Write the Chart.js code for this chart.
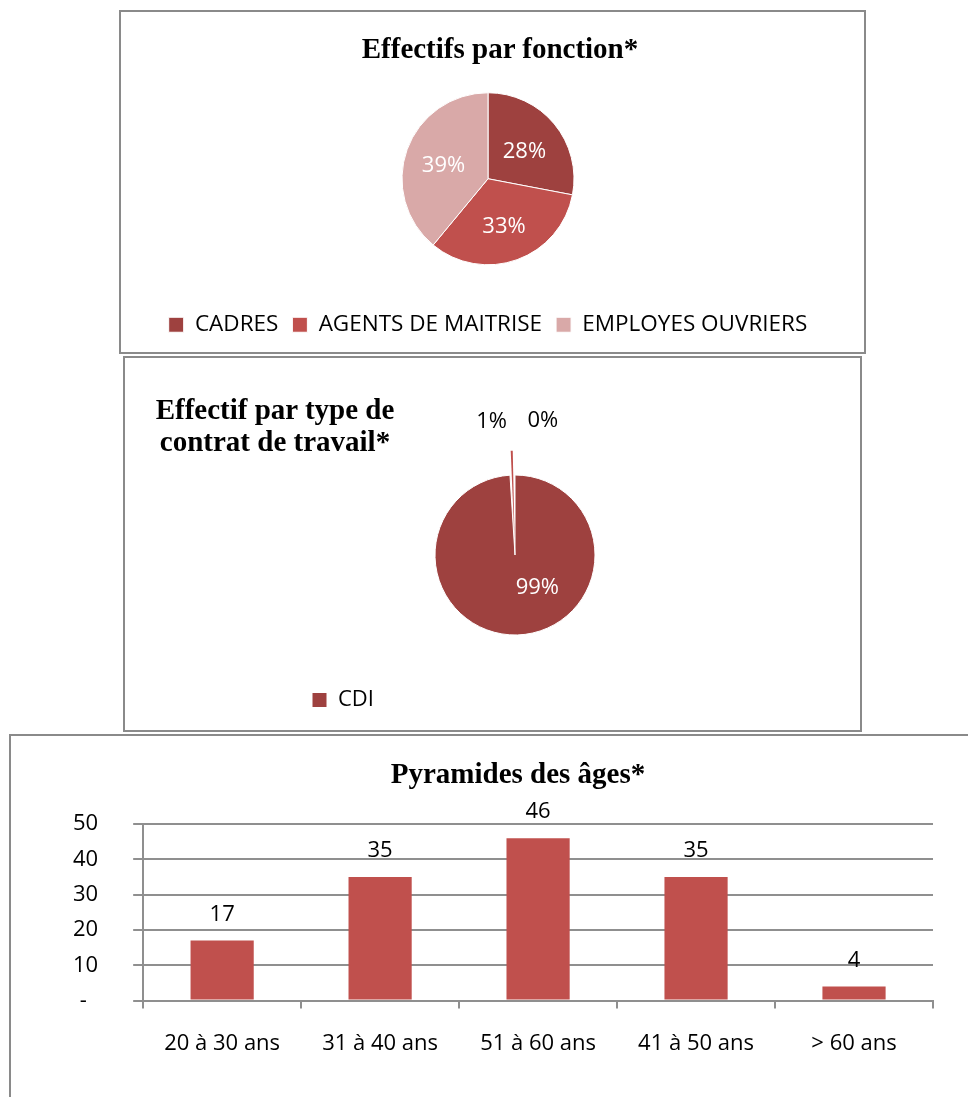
<!DOCTYPE html>
<html lang="fr">
<head>
<meta charset="utf-8">
<script src="https://cdn.jsdelivr.net/npm/chart.js@4/dist/chart.umd.min.js"></script>
<style>
  html, body { margin: 0; padding: 0; background: #fff; overflow: hidden; width: 968px; height: 1097px; }
  .box { position: absolute; box-sizing: border-box; border: 2px solid #8a8a8a; }
  .cw { position: absolute; }
  .ttl { position: absolute; text-align: center; white-space: nowrap;
         font: bold 29px "Liberation Serif", serif; line-height: 32px; color: #000; }
</style>
</head>
<body>
<div class="box" style="left:119px;top:10px;width:747px;height:344px;"></div>
<div class="box" style="left:123px;top:356px;width:739px;height:376px;"></div>
<div class="box" style="left:9px;top:734px;width:990px;height:400px;"></div>

<div class="cw" style="left:121px;top:12px;width:743px;height:340px;"><canvas id="c1"></canvas></div>
<div class="cw" style="left:125px;top:358px;width:735px;height:372px;"><canvas id="c2"></canvas></div>
<div class="cw" style="left:11px;top:736px;width:957px;height:361px;"><canvas id="c3"></canvas></div>

<div class="ttl" style="left:300px;top:32px;width:400px;">Effectifs par fonction*</div>
<div class="ttl" style="left:135px;top:393px;width:280px;">Effectif par type de<br>contrat de travail*</div>
<div class="ttl" style="left:318px;top:757px;width:400px;">Pyramides des âges*</div>

<script>
// ---- data ----
const fonctionLabels = ['CADRES', 'AGENTS DE MAITRISE', 'EMPLOYES OUVRIERS'];
const fonctionValues = [28, 33, 39];

const contratLabels = ['CDI', '', ''];
const contratValues = [99, 1, 0];

const ageLabels = ['20 à 30 ans', '31 à 40 ans', '51 à 60 ans', '41 à 50 ans', '> 60 ans'];
const ageValues = [17, 35, 46, 35, 4];
const ageTicks = [0, 10, 20, 30, 40, 50];

// ---- styles ----
const SANS = '"Open Sans", "DejaVu Sans", sans-serif';
const DARK = '#9E413F', MID = '#C0504D', LIGHT = '#D9A9A8';
const GRID = '#8f8f8f';

Chart.defaults.font.family = SANS;
Chart.defaults.color = '#000';
Chart.defaults.animation = false;
Chart.defaults.plugins.tooltip.enabled = false;

const pieLabels = {
  id: 'pieLabels',
  afterDatasetsDraw(chart, args, opts) {
    const ctx = chart.ctx;
    const meta = chart.getDatasetMeta(0);
    const data = chart.data.datasets[0].data;
    const total = data.reduce((a, b) => a + b, 0);
    ctx.save();
    ctx.font = '22px ' + SANS;
    ctx.textAlign = 'center';
    ctx.textBaseline = 'middle';
    meta.data.forEach((arc, i) => {
      const txt = Math.round(data[i] / total * 100) + '%';
      let ang, r;
      const p = opts.place ? opts.place[i] : null;
      if (p) {
        ang = p.deg * Math.PI / 180 - Math.PI / 2;
        r = p.r * arc.outerRadius;
      } else {
        ang = (arc.startAngle + arc.endAngle) / 2;
        r = opts.ratio * arc.outerRadius;
      }
      ctx.fillStyle = opts.colors[i];
      ctx.fillText(txt, arc.x + Math.cos(ang) * r, arc.y + Math.sin(ang) * r + (opts.dy || 0));
    });
    ctx.restore();
  }
};

const barLabels = {
  id: 'barLabels',
  afterDatasetsDraw(chart) {
    const ctx = chart.ctx;
    const meta = chart.getDatasetMeta(0);
    const data = chart.data.datasets[0].data;
    ctx.save();
    ctx.font = '22px ' + SANS;
    ctx.fillStyle = '#000';
    ctx.textAlign = 'center';
    ctx.textBaseline = 'middle';
    meta.data.forEach((bar, i) => {
      ctx.fillText(String(data[i]), bar.x, bar.y - 26);
    });
    ctx.restore();
  }
};

// ---- chart 1 ----
new Chart(document.getElementById('c1'), {
  type: 'pie',
  data: {
    labels: fonctionLabels,
    datasets: [{
      data: fonctionValues,
      backgroundColor: [DARK, MID, LIGHT],
      borderColor: '#fff',
      borderWidth: 1,
      radius: 86
    }]
  },
  options: {
    responsive: true,
    maintainAspectRatio: false,
    layout: { padding: { left: 0, right: 9, top: 46, bottom: 6 } },
    plugins: {
      legend: {
        position: 'bottom',
        labels: { boxWidth: 15, boxHeight: 15, padding: 14, color: '#000', font: { size: 22.5 } }
      },
      pieLabels: { ratio: 0.55, dy: 3, colors: ['#fff', '#fff', '#fff'] }
    }
  },
  plugins: [pieLabels]
});

// ---- chart 2 ----
new Chart(document.getElementById('c2'), {
  type: 'pie',
  data: {
    labels: contratLabels,
    datasets: [{
      data: contratValues,
      backgroundColor: [DARK, MID, LIGHT],
      borderColor: '#fff',
      borderWidth: [1, 0, 0],
      offset: [0, 50, 0],
      radius: 80
    }]
  },
  options: {
    responsive: true,
    maintainAspectRatio: false,
    layout: { padding: { left: 177, right: 132, top: 73, bottom: 9 } },
    plugins: {
      legend: {
        position: 'bottom',
        align: 'start',
        labels: {
          boxWidth: 15, boxHeight: 15, padding: 10, color: '#000', font: { size: 22 },
          filter: (item) => item.text !== ''
        }
      },
      pieLabels: {
        colors: ['#fff', '#000', '#000'],
        place: [{ deg: 146, r: 0.5 }, { deg: -10, r: 1.69 }, { deg: 11.7, r: 1.72 }]
      }
    }
  },
  plugins: [pieLabels]
});

// ---- chart 3 ----
new Chart(document.getElementById('c3'), {
  type: 'bar',
  data: {
    labels: ageLabels,
    datasets: [{
      data: ageValues,
      backgroundColor: MID,
      categoryPercentage: 1.0,
      barPercentage: 0.4
    }]
  },
  options: {
    responsive: true,
    maintainAspectRatio: false,
    layout: { padding: { left: 27, right: 35, top: 88, bottom: 18 } },
    plugins: {
      legend: { display: false }
    },
    scales: {
      x: {
        grid: { offset: true, drawOnChartArea: false, drawTicks: true, tickLength: 8, color: GRID, lineWidth: 2 },
        border: { display: true, color: GRID, width: 2 },
        ticks: { padding: 22, color: '#000', font: { size: 22 } }
      },
      y: {
        min: ageTicks[0],
        max: ageTicks[ageTicks.length - 1],
        afterBuildTicks: (axis) => { axis.ticks = ageTicks.map(v => ({ value: v })); },
        grid: { color: GRID, lineWidth: 2, tickLength: 10 },
        border: { display: true, color: GRID, width: 2 },
        ticks: { padding: 35, color: '#000', font: { size: 22 },
                 callback: (v) => v === 0 ? '-  ' : String(v) }
      }
    }
  },
  plugins: [barLabels]
});
</script>
</body>
</html>
